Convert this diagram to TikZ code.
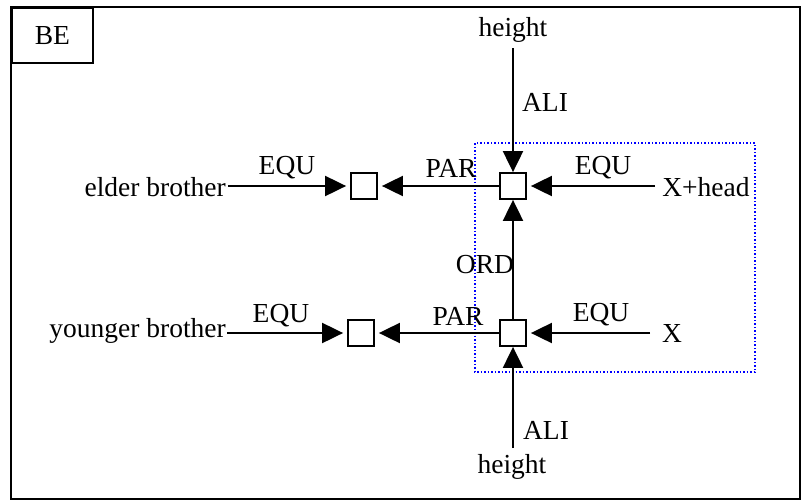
\documentclass[tikz,border=0pt]{standalone}
\usepackage{fontspec}
\setmainfont{Liberation Serif}
\usetikzlibrary{arrows.meta}
\begin{document}
\begin{tikzpicture}[x=1pt,y=-1pt,
  every node/.style={font=\fontsize{27.5}{31}\selectfont, inner sep=0pt},
  sq/.style={draw, line width=1.8pt, minimum size=26pt, fill=white},
  arr/.style={line width=2pt, -{Triangle[length=21pt,width=20pt]}},
  lbl/.style={}]
\useasboundingbox (0,0) rectangle (802,501);
\fill[white] (0,0) rectangle (802,501);
% frame
\draw[line width=1.8pt] (11,7) rectangle (800,499);
\node[draw, line width=1.8pt, minimum width=81pt, minimum height=55pt, anchor=north west] (be) at (11,7) {BE};
% blue dotted region
\draw[blue, dotted, line width=1.5pt] (475,143) rectangle (755,372);
% boxes
\node[sq] (ur) at (513,186) {};
\node[sq] (ul) at (364,186) {};
\node[sq] (lr) at (513,333) {};
\node[sq] (ll) at (361,333) {};
% texts
\node (ht) at (513,30) {height};
\node (hb) at (512,467) {height};
\node (xh) at (706,187) {X+head};
\node (x) at (672,333) {X};
\node[anchor=east] (eb) at (226,187) {elder brother};
\node[anchor=east] (yb) at (226,331) {younger brother};
% connector endpoints
\coordinate (htb) at (513,48);
\coordinate (hbt) at (513,448);
\coordinate (xhs) at (655,186);
\coordinate (xs) at (650,333);
\coordinate (ebs) at (228,186);
\coordinate (ybs) at (227,333);
% arrows
\draw[arr] (htb) -- (ur.north);
\draw[arr] (hbt) -- (lr.south);
\draw[arr, shorten >=4pt] (xhs) -- (ur.east);
\draw[arr, shorten >=4pt] (xs) -- (lr.east);
\draw[arr, shorten >=4pt] (ur.west) -- (ul.east);
\draw[arr, shorten >=4pt] (lr.west) -- (ll.east);
\draw[arr, shorten >=4pt] (ebs) -- (ul.west);
\draw[arr, shorten >=4pt] (ybs) -- (ll.west);
\draw[arr] (lr.north) -- (ur.south);
% labels
\node[lbl] (ali1) at (545,102) {ALI};
\node[lbl] (ali2) at (546,430) {ALI};
\node[lbl] (eq1) at (287,168) {EQU};
\node[lbl] (eq2) at (281,316) {EQU};
\node[lbl] (eq3) at (603,168) {EQU};
\node[lbl] (eq4) at (601,315) {EQU};
\node[lbl] (par1) at (451,168) {PAR};
\node[lbl] (par2) at (458,316) {PAR};
\node[lbl] (ord) at (485,265) {ORD};
\end{tikzpicture}
\end{document}
